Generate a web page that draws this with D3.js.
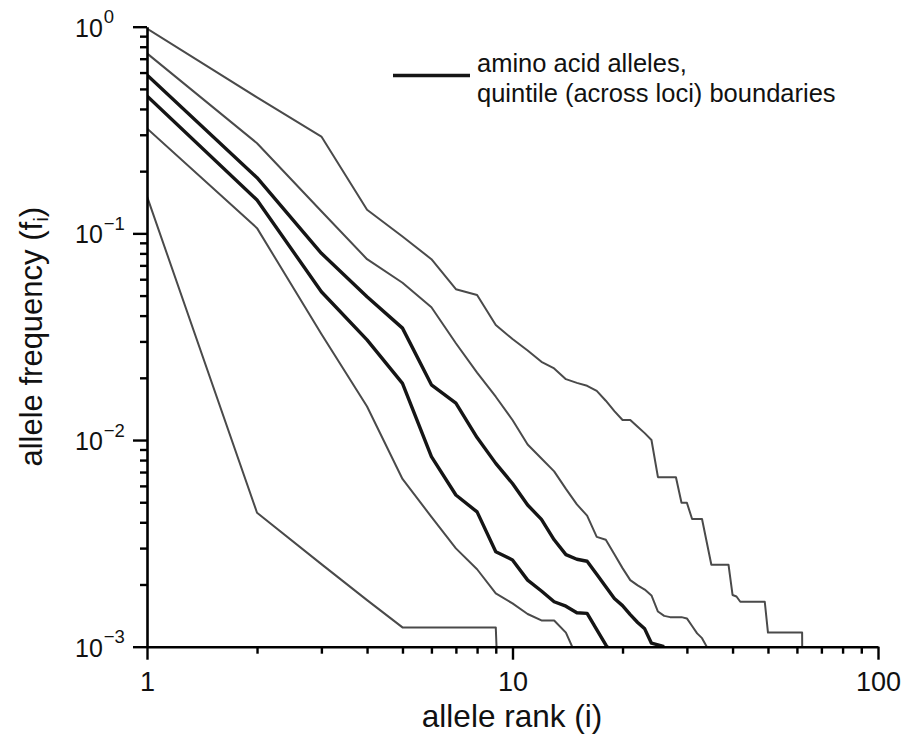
<!DOCTYPE html>
<html>
<head>
<meta charset="utf-8">
<script src="https://cdn.jsdelivr.net/npm/d3@7"></script>
<style>
  body { margin: 0; background: #fff; }
  svg { display: block; font-family: "Liberation Sans", Arial, sans-serif; }
</style>
</head>
<body>
<svg></svg>
<script>
// x: allele rank (i), y: allele frequency (f_i), both log
// each curve lists f at rank 1, 2, 3, ...

const qMax = [0.98, 0.455, 0.294, 0.130, 0.0965, 0.075, 0.0537, 0.0503, 0.0360, 0.0308,
  0.0271, 0.0239, 0.0222, 0.0197, 0.0189, 0.0183, 0.0173, 0.0155, 0.0138, 0.0125,
  0.0125, 0.0116, 0.0108, 0.0100, 0.00661, 0.00661, 0.00661, 0.00661, 0.00497, 0.00497,
  0.00415, 0.00415, 0.00415, 0.0032, 0.00249, 0.00249, 0.00249, 0.00249, 0.00249, 0.00178,
  0.00175, 0.00165, 0.00165, 0.00165, 0.00165, 0.00165, 0.00165, 0.00165, 0.00165, 0.00117,
  0.00117, 0.00117, 0.00117, 0.00117, 0.00117, 0.00117, 0.00117, 0.00117, 0.00117, 0.00117,
  0.00117, 0.00117, 0.00001];

const q80 = [0.743, 0.273, 0.128, 0.075, 0.0577, 0.0439, 0.0294, 0.0212, 0.0162, 0.0125,
  0.00952, 0.00814, 0.00705, 0.00580, 0.00488, 0.00431, 0.00340, 0.00329, 0.00280, 0.00240,
  0.00210, 0.00198, 0.00189, 0.00177, 0.00148, 0.00141, 0.00139, 0.00139, 0.00139, 0.00137,
  0.00126, 0.00116, 0.00110, 0.00100];

const q60 = [0.584, 0.186, 0.0801, 0.0494, 0.0348, 0.0185, 0.0151, 0.01028, 0.00771, 0.00616,
  0.00485, 0.00413, 0.00329, 0.00279, 0.00265, 0.00259, 0.00224, 0.00195, 0.00171, 0.00158,
  0.00143, 0.00131, 0.00122, 0.00104, 0.00102, 0.00100];

const q40 = [0.462, 0.145, 0.0522, 0.0305, 0.0188, 0.00831, 0.00542, 0.00449, 0.00288, 0.00263,
  0.00210, 0.00186, 0.00165, 0.00157, 0.00146, 0.00145, 0.00121, 0.00102, 0.0009];

const q20 = [0.322, 0.106, 0.0326, 0.01452, 0.00648, 0.00425, 0.00299, 0.00237, 0.00181, 0.00162,
  0.00144, 0.00134, 0.00134, 0.00117, 0.00089];

const qMin = [0.151, 0.00445, 0.00251, 0.00168, 0.00124, 0.00124, 0.00124, 0.00124, 0.00124, 0.00001];

const curves = [
  { values: qMax, thick: false },
  { values: q80, thick: false },
  { values: q60, thick: true },
  { values: q40, thick: true },
  { values: q20, thick: false },
  { values: qMin, thick: false }
];

const xMajorTicks = [1, 10, 100];
const xMinorTicks = [2, 3, 4, 5, 6, 7, 8, 9, 20, 30, 40, 50, 60, 70, 80, 90];
const yMajorTicks = [1, 0.1, 0.01, 0.001];
const yTickExponents = ["0", "\u22121", "\u22122", "\u22123"];
const yMinorTicks = [];
[0.1, 0.01, 0.001].forEach(b => [2, 3, 4, 5, 6, 7, 8, 9].forEach(m => yMinorTicks.push(+(b * m).toPrecision(3))));

const legendLines = ["amino acid alleles,", "quintile (across loci) boundaries"];

const width = 907;
const height = 736;
const plotLeft = 147, plotRight = 878, plotTop = 26.7, plotBottom = 646.7;

// Scales
const xScale = d3.scaleLog().domain([1, 100]).range([plotLeft, plotRight]);
const yScale = d3.scaleLog().domain([0.001, 1]).range([plotBottom, plotTop]);

const svg = d3.select("svg")
    .attr("width", width)
    .attr("height", height);

svg.append("rect").attr("width", width).attr("height", height).attr("fill", "#fff");

svg.append("clipPath")
    .attr("id", "plot")
  .append("rect")
    .attr("x", plotLeft)
    .attr("y", 0)
    .attr("width", plotRight - plotLeft + 5)
    .attr("height", plotBottom);

// Curves
const line = d3.line()
    .x((d, i) => xScale(i + 1))
    .y(d => yScale(d));

svg.append("g")
    .attr("clip-path", "url(#plot)")
  .selectAll("path")
  .data(curves)
  .enter()
  .append("path")
    .attr("d", d => line(d.values))
    .attr("fill", "none")
    .attr("stroke", d => d.thick ? "#151515" : "#4a4a4a")
    .attr("stroke-width", d => d.thick ? 3.4 : 2)
    .attr("stroke-linejoin", "round");

// Axes
const styleAxis = g => {
  g.selectAll(".domain").attr("stroke", "#000").attr("stroke-width", 2.6);
  g.selectAll(".tick line").attr("stroke", "#000").attr("stroke-width", 2.4);
};

svg.append("g")
    .attr("transform", `translate(0, ${plotBottom})`)
    .call(d3.axisBottom(xScale).tickValues(xMinorTicks).tickSize(7).tickFormat(""))
    .call(styleAxis)
    .call(g => g.select(".domain").remove());

svg.append("g")
    .attr("transform", `translate(${plotLeft}, 0)`)
    .call(d3.axisLeft(yScale).tickValues(yMinorTicks).tickSize(7).tickFormat(""))
    .call(styleAxis)
    .call(g => g.select(".domain").remove());

svg.append("g")
    .attr("transform", `translate(0, ${plotBottom})`)
    .call(d3.axisBottom(xScale).tickValues(xMajorTicks).tickSize(13).tickSizeOuter(0)
      .tickPadding(12).tickFormat(d3.format("d")))
    .call(styleAxis)
    .call(g => g.selectAll("text")
      .attr("font-size", 27)
      .attr("font-family", "Liberation Sans, Arial, sans-serif")
      .attr("fill", "#111"));

svg.append("g")
    .attr("transform", `translate(${plotLeft}, 0)`)
    .call(d3.axisLeft(yScale).tickValues(yMajorTicks).tickSize(14).tickSizeOuter(0).tickFormat(""))
    .call(styleAxis);

// y tick labels 10^k
const yLabels = svg.append("g")
  .selectAll("text")
  .data(yMajorTicks)
  .enter()
  .append("text")
    .attr("x", 75)
    .attr("y", d => yScale(d) + 10)
    .attr("font-size", 25)
    .attr("fill", "#111");

yLabels.append("tspan").text("10");
yLabels.append("tspan")
    .attr("font-size", 18.5)
    .attr("dx", 1)
    .attr("dy", -13.3)
    .text((d, i) => yTickExponents[i]);

// Axis titles
svg.append("text")
    .attr("x", (plotLeft + plotRight) / 2 - 0.5)
    .attr("y", 727)
    .attr("text-anchor", "middle")
    .attr("font-size", 31.5)
    .attr("fill", "#111")
    .text("allele rank (i)");

const yTitle = svg.append("text")
    .attr("transform", `translate(42, ${(plotTop + plotBottom) / 2}) rotate(-90)`)
    .attr("text-anchor", "middle")
    .attr("font-size", 31)
    .attr("fill", "#111");
yTitle.append("tspan").text("allele frequency (f");
yTitle.append("tspan").attr("font-size", 21).attr("dy", 6).text("i");
yTitle.append("tspan").attr("dy", -6).text(")");

// Legend
svg.append("line")
    .attr("x1", 393).attr("x2", 470)
    .attr("y1", 75.5).attr("y2", 75.5)
    .attr("stroke", "#151515")
    .attr("stroke-width", 3.4);

svg.append("g")
  .selectAll("text")
  .data(legendLines)
  .enter()
  .append("text")
    .attr("x", 477)
    .attr("y", (d, i) => 72 + i * 30)
    .attr("font-size", 25.5)
    .attr("fill", "#111")
    .text(d => d);
</script>
</body>
</html>
